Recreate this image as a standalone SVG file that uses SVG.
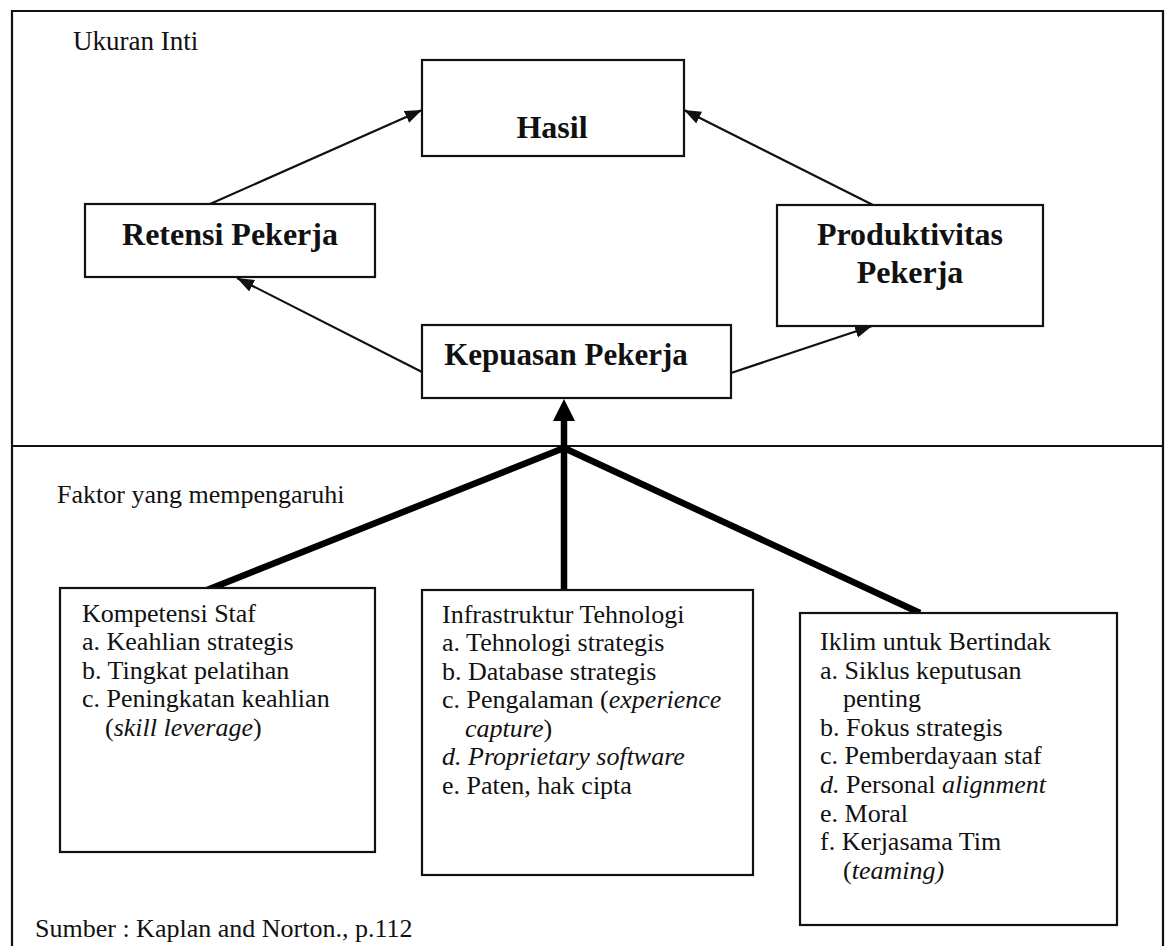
<svg xmlns="http://www.w3.org/2000/svg" width="1166" height="946" viewBox="0 0 1166 946">
<style>
.box{fill:#fff;stroke:#111;stroke-width:2.2}
.frame{fill:none;stroke:#111;stroke-width:2.2}
.t{font-family:"Liberation Serif","Times New Roman",serif;font-size:26px;fill:#111}
.b{font-family:"Liberation Serif","Times New Roman",serif;font-size:32px;font-weight:bold;fill:#111}
.i{font-style:italic}
.thin{stroke:#111;stroke-width:2.2;fill:none;marker-end:url(#ah)}
.thick{stroke:#000;stroke-width:6.5;fill:none}
</style>
<defs>
<marker id="ah" markerUnits="userSpaceOnUse" markerWidth="18" markerHeight="14" refX="17" refY="6.5" orient="auto">
<path d="M0,0 L17,6.5 L0,13 z" fill="#111"/>
</marker>
</defs>
<rect width="1166" height="946" fill="#fff"/>
<g id="frame">
<path class="frame" d="M12,960 L12,11 L1163,11 L1163,960"/>
<line x1="12" y1="446" x2="1163" y2="446" stroke="#111" stroke-width="2.2"/>
<text class="t" x="73" y="50" style="font-size:27px">Ukuran Inti</text>
<text class="t" x="57" y="503">Faktor yang mempengaruhi</text>
<text class="t" x="35" y="937">Sumber : Kaplan and Norton., p.112</text>
</g>
<g id="connectors">
<line class="thin" x1="210" y1="204" x2="422" y2="110"/>
<line class="thin" x1="873" y1="205" x2="684" y2="110"/>
<line class="thin" x1="422" y1="372" x2="237" y2="278"/>
<line class="thin" x1="731" y1="373" x2="872" y2="326"/>
<line class="thick" x1="564" y1="448" x2="207" y2="590"/>
<line class="thick" x1="564" y1="448" x2="564" y2="590"/>
<line class="thick" x1="564" y1="448" x2="920" y2="613"/>
<line class="thick" x1="564" y1="450" x2="564" y2="418"/>
<polygon points="553,421 575,421 564,399" fill="#000"/>
</g>
<g id="hasil">
<rect class="box" x="422" y="60" width="262" height="96"/>
<text class="b" x="552" y="138" text-anchor="middle">Hasil</text>
</g>
<g id="retensi">
<rect class="box" x="85" y="204" width="290" height="73"/>
<text class="b" x="230" y="245" text-anchor="middle">Retensi Pekerja</text>
</g>
<g id="produktivitas">
<rect class="box" x="777" y="205" width="266" height="121"/>
<text class="b" x="910" y="245" text-anchor="middle">Produktivitas</text>
<text class="b" x="910" y="283" text-anchor="middle">Pekerja</text>
</g>
<g id="kepuasan">
<rect class="box" x="422" y="325" width="309" height="73"/>
<text class="b" x="566" y="365" text-anchor="middle" style="font-size:31px">Kepuasan Pekerja</text>
</g>
<g id="kompetensi">
<rect class="box" x="60" y="588" width="315" height="264"/>
<text class="t" x="82" y="622">Kompetensi Staf</text>
<text class="t" x="82" y="650">a. Keahlian strategis</text>
<text class="t" x="82" y="679">b. Tingkat pelatihan</text>
<text class="t" x="82" y="707">c. Peningkatan keahlian</text>
<text class="t" x="105" y="736">(<tspan class="i">skill leverage</tspan>)</text>
</g>
<g id="infrastruktur">
<rect class="box" x="422" y="590" width="331" height="285"/>
<text class="t" x="442" y="623">Infrastruktur Tehnologi</text>
<text class="t" x="442" y="651">a. Tehnologi strategis</text>
<text class="t" x="442" y="680">b. Database strategis</text>
<text class="t" x="442" y="708">c. Pengalaman (<tspan class="i">experience</tspan></text>
<text class="t" x="465" y="737"><tspan class="i">capture</tspan>)</text>
<text class="t i" x="442" y="765">d. Proprietary software</text>
<text class="t" x="442" y="794">e. Paten, hak cipta</text>
</g>
<g id="iklim">
<rect class="box" x="800" y="613" width="317" height="312"/>
<text class="t" x="820" y="650">Iklim untuk Bertindak</text>
<text class="t" x="820" y="679">a. Siklus keputusan</text>
<text class="t" x="843" y="707">penting</text>
<text class="t" x="820" y="736">b. Fokus strategis</text>
<text class="t" x="820" y="764">c. Pemberdayaan staf</text>
<text class="t" x="820" y="793"><tspan class="i">d.</tspan> Personal <tspan class="i">alignment</tspan></text>
<text class="t" x="820" y="822">e. Moral</text>
<text class="t" x="820" y="850">f. Kerjasama Tim</text>
<text class="t" x="843" y="879">(<tspan class="i">teaming)</tspan></text>
</g>
</svg>
